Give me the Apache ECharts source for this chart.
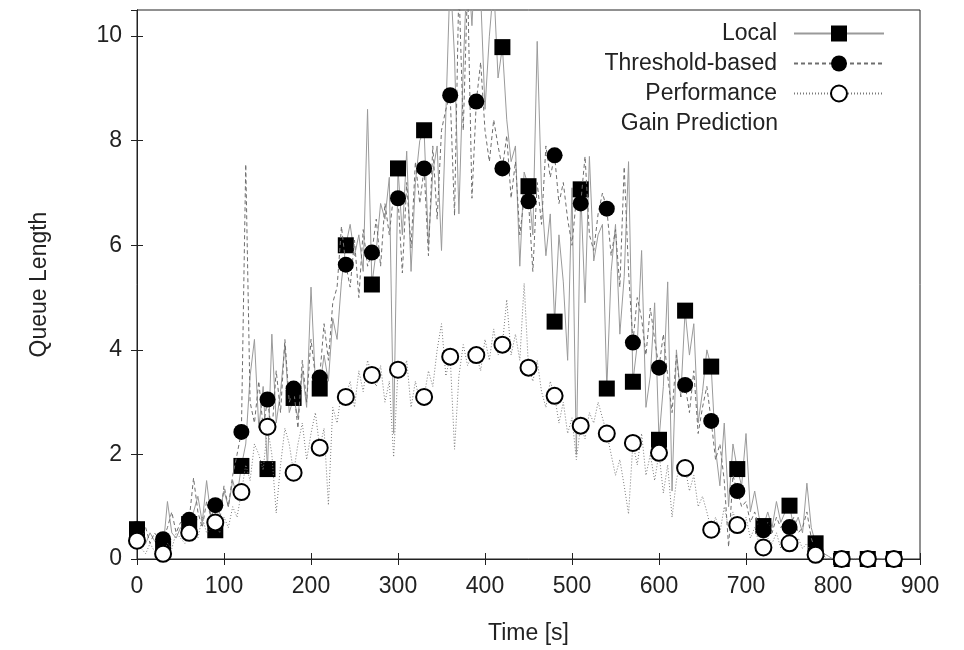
<!DOCTYPE html>
<html><head><meta charset="utf-8">
<script src="https://cdn.jsdelivr.net/npm/echarts@6/dist/echarts.min.js"></script>
<style>html,body{margin:0;padding:0;background:#fff}#c{width:964px;height:650px}</style>
</head><body><div id="c"></div>
<script>
const STEP = 5;          // seconds between samples
const MARK_EVERY = 30;   // a marker every 30 s
const xTickValues = [0,100,200,300,400,500,600,700,800,900];
const yTickValues = [0,2,4,6,8,10];
const seriesNames = ['Local', 'Threshold-based', 'Performance'];
const legendSecondLine = 'Gain Prediction';
const xName = 'Time [s]';
const yName = 'Queue Length';

const localQ = [
0.57,0.45,0.3,0.5,0.35,0.25,
0.2,1.1,0.5,0.4,0.6,0.5,
0.67,0.9,1.2,0.7,1.5,0.8,
0.55,0.9,1.3,1.0,1.5,1.2,
1.78,2.2,3.5,4.2,2.5,3.3,
1.72,4.3,2.6,3.2,4.1,2.8,
3.08,2.7,3.6,2.9,5.2,3.4,
3.26,3.9,3.4,4.6,4.2,5.3,
6.0,6.4,5.8,6.2,5.5,8.6,
5.25,5.9,6.8,6.5,7.3,2.4,
7.47,6.2,7.8,5.5,7.2,8.0,
8.2,6.0,7.4,7.9,5.9,8.5,
11.2,9.6,6.6,9.4,11.5,10.2,
12.0,10.8,8.6,10.0,11.0,9.2,
9.79,8.4,7.6,7.9,5.6,7.4,
7.13,6.2,9.9,7.0,5.8,6.6,
4.54,6.2,5.3,3.8,7.1,2.0,
7.07,4.9,7.7,5.7,6.2,6.4,
3.26,5.5,6.4,4.3,5.4,7.6,
3.39,4.1,5.9,2.9,3.5,4.9,
2.28,3.3,5.3,1.3,4.0,3.1,
4.75,3.9,4.5,2.6,3.2,4.0,
3.68,2.1,1.4,2.6,1.0,2.2,
1.72,1.4,2.4,0.9,1.3,0.8,
0.63,0.9,0.6,1.1,0.7,0.9,
1.02,0.6,0.8,0.5,1.45,0.6,
0.3,0.2,0.1,0.05,0,0,
0,0,0,0,0,0,
0,0,0,0,0,0,
0,0];

const thresholdQ = [
0.57,0.4,0.6,0.3,0.5,0.4,
0.38,0.6,0.9,0.5,0.7,0.6,
0.75,1.55,0.9,0.6,1.1,0.8,
1.03,0.7,1.4,1.0,1.6,2.0,
2.43,7.55,3.0,2.6,3.4,2.5,
3.05,2.4,3.6,2.8,4.2,3.0,
3.26,2.5,3.8,3.0,4.2,3.5,
3.47,4.5,3.8,4.9,5.2,6.36,
5.63,5.2,6.1,5.0,6.3,5.6,
5.86,6.5,5.6,6.8,6.2,7.0,
6.9,5.47,7.2,5.95,7.6,6.8,
7.47,5.8,7.9,6.5,8.2,8.6,
8.87,6.57,11.0,8.2,11.0,6.9,
8.75,9.5,8.2,7.6,8.4,7.9,
7.47,8.1,6.9,7.6,6.2,6.9,
6.84,5.5,7.2,6.4,7.9,7.3,
7.72,6.8,7.2,6.5,6.0,6.9,
6.8,7.7,6.2,5.9,6.6,7.0,
6.7,5.8,6.3,5.2,7.5,5.5,
4.14,5.0,4.6,3.9,4.8,4.2,
3.66,4.3,3.5,2.8,3.9,3.1,
3.33,2.8,3.6,2.4,2.9,3.3,
2.64,1.9,2.2,1.5,0.23,1.6,
1.3,1.0,1.1,0.7,0.9,0.6,
0.55,0.7,0.5,0.8,0.6,0.7,
0.61,0.8,0.5,0.6,0.9,0.4,
0.15,0.1,0.05,0,0,0,
0,0,0,0,0,0,
0,0,0,0,0,0,
0,0];

const perfQ = [
0.35,0.2,0.1,0.3,0.15,0.1,
0.1,0.3,0.2,0.5,0.4,0.3,
0.5,0.6,0.4,0.8,0.5,0.6,
0.7,0.5,0.8,0.6,1.0,0.8,
1.28,1.8,1.5,2.2,2.0,1.7,
2.53,2.0,0.88,1.8,2.5,2.2,
1.65,2.2,2.6,1.9,2.4,2.8,
2.13,2.5,1.03,2.9,2.6,3.2,
3.1,3.4,2.9,3.6,3.2,3.8,
3.52,3.3,3.7,3.0,3.4,1.95,
3.62,3.5,3.8,2.9,3.4,3.0,
3.1,3.6,3.3,4.0,4.5,3.5,
3.87,2.1,3.5,4.1,3.7,3.9,
3.9,3.6,4.2,3.8,4.4,3.9,
4.1,4.96,3.9,4.3,3.8,5.27,
3.66,3.4,3.8,3.2,2.9,3.4,
3.12,2.6,3.0,2.4,2.7,1.9,
2.55,2.3,2.8,2.6,3.0,2.7,
2.4,2.0,1.6,1.9,1.4,0.86,
2.22,1.8,2.4,1.6,2.0,1.5,
2.03,1.26,1.8,0.8,1.5,1.9,
1.74,1.3,1.6,1.0,1.2,0.9,
0.56,0.8,0.5,1.0,0.6,0.9,
0.65,0.5,0.8,0.4,0.6,0.3,
0.22,0.4,0.3,0.5,0.2,0.4,
0.3,0.2,0.4,0.2,0.3,0.1,
0.08,0.05,0,0,0,0,
0,0,0,0,0,0,
0,0,0,0,0,0,
0,0];

const FONT = "'Liberation Sans', Arial, Helvetica, sans-serif";
const TXT = '#222';
const FS = 23;

function build(vals) {
  return vals.map(function (v, i) {
    const t = i * STEP;
    const item = { value: [t, v] };
    if (t % MARK_EVERY !== 0) item.symbol = 'none';
    return item;
  });
}

const chart = echarts.init(document.getElementById('c'), null, { renderer: 'canvas' });

const axisLineStyle = { color: '#222', width: 1 };
const option = {
  backgroundColor: '#fff',
  animation: false,
  grid: { left: 137, right: 44, top: 10, bottom: 91, show: true, borderColor: '#222', borderWidth: 1, backgroundColor: 'transparent' },
  legend: {
    orient: 'vertical', align: 'right', right: 79, top: 22, padding: 0,
    itemWidth: 90, itemHeight: 20, itemGap: 7,
    data: seriesNames,
    textStyle: { fontFamily: FONT, fontSize: FS, color: TXT, lineHeight: 20, padding: [0, 12, 0, 0] },
    selectedMode: false
  },
  graphic: [{
    type: 'text', x: 778, y: 124,
    style: { text: legendSecondLine, align: 'right', verticalAlign: 'middle', fontFamily: FONT, fontSize: FS, fill: TXT }
  }],
  xAxis: [{
    type: 'value', min: 0, max: 900, interval: 100, position: 'bottom',
    axisLine: { show: true, lineStyle: axisLineStyle },
    axisTick: { show: true, inside: true, length: 6, lineStyle: axisLineStyle },
    axisLabel: { margin: 16, fontFamily: FONT, fontSize: FS, color: TXT,
      formatter: function (v) { return xTickValues.indexOf(v) >= 0 ? String(v) : ''; } },
    splitLine: { show: false },
    name: xName, nameLocation: 'middle', nameGap: 63,
    nameTextStyle: { fontFamily: FONT, fontSize: FS, color: TXT }
  }, {
    type: 'value', min: 0, max: 900, interval: 100, position: 'top',
    axisLine: { show: true, lineStyle: axisLineStyle },
    axisTick: { show: true, inside: true, length: 6, lineStyle: axisLineStyle },
    axisLabel: { show: false }, splitLine: { show: false }
  }],
  yAxis: [{
    type: 'value', min: 0, max: 10.5, interval: 2, position: 'left',
    axisLine: { show: true, lineStyle: axisLineStyle },
    axisTick: { show: true, inside: true, length: 6, lineStyle: axisLineStyle },
    axisLabel: { margin: 15, fontFamily: FONT, fontSize: FS, color: TXT, showMaxLabel: false,
      formatter: function (v) { return yTickValues.indexOf(v) >= 0 ? String(v) : ''; } },
    splitLine: { show: false },
    name: yName, nameLocation: 'middle', nameGap: 86, nameRotate: 90,
    nameTextStyle: { fontFamily: FONT, fontSize: FS, color: TXT }
  }, {
    type: 'value', min: 0, max: 10.5, interval: 2, position: 'right',
    axisLine: { show: true, lineStyle: axisLineStyle },
    axisTick: { show: true, inside: true, length: 6, lineStyle: axisLineStyle },
    axisLabel: { show: false }, splitLine: { show: false }
  }],
  series: [{
    name: seriesNames[0], type: 'line', xAxisIndex: 0, yAxisIndex: 0,
    data: build(localQ), showAllSymbol: true, symbol: 'rect', symbolSize: 16,
    itemStyle: { color: '#000' },
    lineStyle: { color: '#9a9a9a', width: 1 },
    clip: true, z: 2
  }, {
    name: seriesNames[1], type: 'line', xAxisIndex: 0, yAxisIndex: 0,
    data: build(thresholdQ), showAllSymbol: true, symbol: 'circle', symbolSize: 16,
    itemStyle: { color: '#000' },
    lineStyle: { color: '#6e6e6e', width: 1, type: [4, 3] },
    clip: true, z: 3
  }, {
    name: seriesNames[2], type: 'line', xAxisIndex: 0, yAxisIndex: 0,
    data: build(perfQ), showAllSymbol: true, symbol: 'emptyCircle', symbolSize: 16,
    itemStyle: { color: '#000', borderWidth: 1 },
    lineStyle: { color: '#7a7a7a', width: 1, type: [1, 2] },
    clip: true, z: 4
  }]
};
chart.setOption(option);
</script>
</body></html>
